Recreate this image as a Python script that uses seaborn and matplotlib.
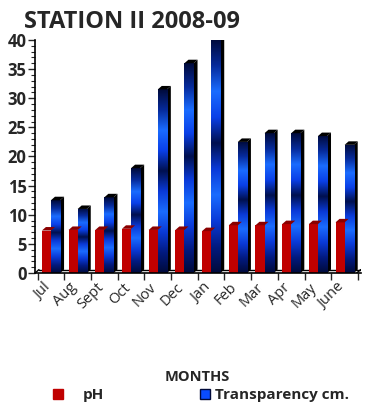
import matplotlib
matplotlib.use("Agg")
import matplotlib.pyplot as plt
from matplotlib.colors import LinearSegmentedColormap
from matplotlib.lines import Line2D
from matplotlib.patches import Polygon
from matplotlib.ticker import MultipleLocator, FixedLocator
from matplotlib.transforms import ScaledTranslation
import numpy as np
import pandas as pd
import seaborn as sns

MONTHS = ["Jul", "Aug", "Sept", "Oct", "Nov", "Dec", "Jan", "Feb", "Mar", "Apr", "May", "June"]
PH = [7.3, 7.4, 7.4, 7.6, 7.4, 7.4, 7.2, 8.2, 8.2, 8.4, 8.4, 8.7]
TRANSPARENCY = [12.5, 11.0, 13.0, 18.0, 31.5, 36.0, 40.0, 22.5, 24.0, 24.0, 23.5, 22.0]
SERIES = ["pH", "Transparency cm."]

RED = "#C00000"
BLUE = "#0A4CFF"

df = pd.DataFrame({
    "month": MONTHS * 2,
    "value": PH + TRANSPARENCY,
    "series": [SERIES[0]] * len(MONTHS) + [SERIES[1]] * len(MONTHS),
})

sns.set_theme(style="white")
plt.rcParams["font.family"] = ["Open Sans", "DejaVu Sans"]

fig = plt.figure(figsize=(3.68, 4.07), dpi=100)
ax = fig.add_axes([0.095, 0.329, 0.885, 0.573])

sns.barplot(data=df, x="month", y="value", hue="series", order=MONTHS,
            hue_order=SERIES, palette=[RED, BLUE], width=0.68, saturation=1,
            linewidth=0, legend=False, ax=ax)

n = len(MONTHS)
# 3D-ish depth: black shadow to the right and slanted cap on each bar
dx, dy = 0.15, 0.6
blue_cmap = LinearSegmentedColormap.from_list(
    "steel", ["#000a3a", "#021a80", "#0a3ad8", "#1a6cff", "#0a3ad8", "#00104f",
              "#0a40e8", "#1a6cff", "#062a9a", "#000a3a"])
for p in list(ax.patches):
    x0, w, h = p.get_x(), p.get_width(), p.get_height()
    if h <= 0:
        continue
    x1 = x0 + w
    is_blue = p.get_facecolor()[2] > 0.5
    z = p.get_zorder()
    if is_blue:
        side = Polygon([(x1, 0), (x1 + dx, dy), (x1 + dx, h + dy), (x1, h)],
                       closed=True, facecolor="black", edgecolor="none", zorder=z - 0.1)
        ax.add_patch(side)
        grad = np.linspace(0, 1, 256).reshape(-1, 1)
        im = ax.imshow(grad, cmap=blue_cmap, aspect="auto", origin="lower",
                       extent=[x0, x1, 0, h], zorder=z + 0.05)
        im.set_clip_path(p)
        cap_col = "#000000"
    else:
        cap_col = "#8a0000"
    cap = Polygon([(x0, h), (x0 + dx, h + dy), (x1 + dx, h + dy), (x1, h)],
                  closed=True, facecolor=cap_col, edgecolor="none", zorder=z + 0.1)
    ax.add_patch(cap)

# floor back edge
ax.plot([-0.6 + dx, n - 0.4], [dy, dy], color="black", lw=1, zorder=0.5)
ax.plot([-0.6, -0.6 + dx], [0, dy], color="black", lw=1, zorder=0.5)
ax.plot([n - 0.4 - dx, n - 0.4], [0, dy], color="black", lw=1, zorder=0.5)

ax.set_xlim(-0.6, n - 0.4)
ax.set_ylim(0, 40)

for s in ["top", "right"]:
    ax.spines[s].set_visible(False)
for s in ["left", "bottom"]:
    ax.spines[s].set_color("black")
    ax.spines[s].set_linewidth(1.2)

ax.yaxis.set_major_locator(MultipleLocator(5))
ax.yaxis.set_minor_locator(MultipleLocator(1))
ax.tick_params(axis="y", which="major", left=True, length=5, width=1, labelsize=12, pad=1)
ax.tick_params(axis="y", which="minor", left=True, length=3, width=0.8)
for t in ax.get_yticklabels():
    t.set_fontweight("bold")

ax.xaxis.set_minor_locator(FixedLocator(np.arange(-0.5, n, 1)))
ax.tick_params(axis="x", which="minor", bottom=True, length=5, width=1)
ax.tick_params(axis="x", which="major", bottom=False, length=0, labelsize=10.5, pad=5)
ax.set_xticks(range(n))
ax.set_xticklabels(MONTHS, rotation=45, ha="right", rotation_mode="anchor")
shift = ScaledTranslation(-6 / 72, 0, fig.dpi_scale_trans)
for t in ax.get_xticklabels():
    t.set_transform(t.get_transform() + shift)
ax.set_xlabel("")
ax.set_ylabel("")

fig.text(0.066, 0.947, "STATION II 2008-09", fontsize=17, fontweight="bold", ha="left", va="center")
fig.text(0.535, 0.074, "MONTHS", fontsize=10.5, fontweight="bold", ha="center", va="center")

leg_kw = dict(loc="center left", frameon=False, prop={"weight": "bold", "size": 11},
              borderpad=0, borderaxespad=0, handlelength=1)
fig.legend(
    [Line2D([0], [0], marker="s", linestyle="none", markersize=7.5, markerfacecolor=RED, markeredgecolor=RED)],
    [SERIES[0]], bbox_to_anchor=(0.137, 0.029), handletextpad=1.13, **leg_kw)
fig.legend(
    [Line2D([0], [0], marker="s", linestyle="none", markersize=7.5, markerfacecolor=BLUE, markeredgecolor="#000a3a")],
    [SERIES[1]], bbox_to_anchor=(0.536, 0.029), handletextpad=0.15, **leg_kw)

fig.savefig("out.png", dpi=100)
